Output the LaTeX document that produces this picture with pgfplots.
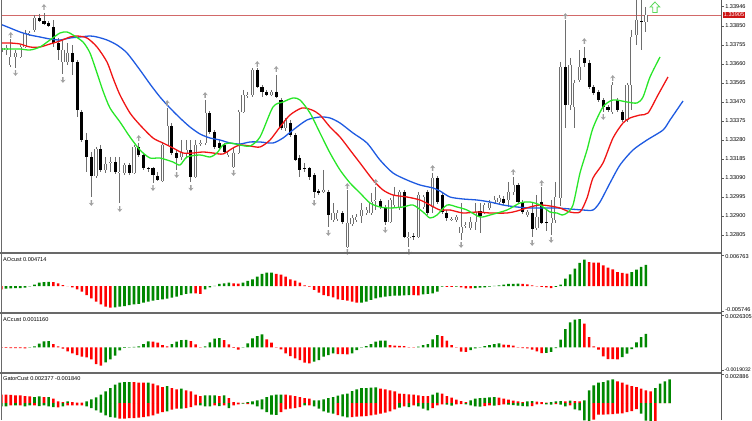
\documentclass[border=0pt]{standalone}
\usepackage{fontspec}
\setmainfont{Liberation Sans}
\usepackage{pgfplots}
\usepackage{pgfplotstable}
\pgfplotsset{compat=1.18}

\definecolor{jaw}{RGB}{30,90,225}
\definecolor{teeth}{RGB}{240,20,20}
\definecolor{lips}{RGB}{40,230,40}
\definecolor{upg}{RGB}{0,135,0}
\definecolor{dnr}{RGB}{255,0,0}
\definecolor{wick}{RGB}{110,110,110}
\definecolor{axc}{RGB}{90,90,90}
\definecolor{sep}{RGB}{105,105,105}
\definecolor{fract}{RGB}{160,160,160}
\definecolor{pline}{RGB}{210,105,105}
\definecolor{arrowg}{RGB}{90,215,90}
\definecolor{pbox}{RGB}{205,20,20}

\newcommand\tickfont{\fontsize{5.6bp}{6bp}\selectfont}
\newcommand\smallfont{\fontsize{5.2bp}{6bp}\selectfont}

\pgfdeclareplotmark{fup}{%
  \pgfpathmoveto{\pgfqpoint{0bp}{2.9bp}}%
  \pgfpathlineto{\pgfqpoint{2.6bp}{-0.3bp}}%
  \pgfpathlineto{\pgfqpoint{0.7bp}{0.5bp}}%
  \pgfpathlineto{\pgfqpoint{0.7bp}{-2.8bp}}%
  \pgfpathlineto{\pgfqpoint{-0.7bp}{-2.8bp}}%
  \pgfpathlineto{\pgfqpoint{-0.7bp}{0.5bp}}%
  \pgfpathlineto{\pgfqpoint{-2.6bp}{-0.3bp}}%
  \pgfpathclose\pgfusepathqfill}
\pgfdeclareplotmark{fdn}{%
  \pgfpathmoveto{\pgfqpoint{0bp}{-2.9bp}}%
  \pgfpathlineto{\pgfqpoint{2.6bp}{0.3bp}}%
  \pgfpathlineto{\pgfqpoint{0.7bp}{-0.5bp}}%
  \pgfpathlineto{\pgfqpoint{0.7bp}{2.8bp}}%
  \pgfpathlineto{\pgfqpoint{-0.7bp}{2.8bp}}%
  \pgfpathlineto{\pgfqpoint{-0.7bp}{-0.5bp}}%
  \pgfpathlineto{\pgfqpoint{-2.6bp}{0.3bp}}%
  \pgfpathclose\pgfusepathqfill}
\pgfdeclareplotmark{bigup}{%
  \pgfpathmoveto{\pgfqpoint{0bp}{5bp}}%
  \pgfpathlineto{\pgfqpoint{4.8bp}{0bp}}%
  \pgfpathlineto{\pgfqpoint{2.2bp}{0bp}}%
  \pgfpathlineto{\pgfqpoint{2.2bp}{-5.5bp}}%
  \pgfpathlineto{\pgfqpoint{-2.2bp}{-5.5bp}}%
  \pgfpathlineto{\pgfqpoint{-2.2bp}{0bp}}%
  \pgfpathlineto{\pgfqpoint{-4.8bp}{0bp}}%
  \pgfpathclose\pgfusepathqstroke}

\pgfplotstableread{
i o h l c
0 1.33720 1.33755 1.33705 1.33740
1 1.33730 1.33755 1.33705 1.33740
2 1.33655 1.33785 1.33645 1.33695
3 1.33695 1.33730 1.33640 1.33715
4 1.33695 1.33755 1.33690 1.33745
5 1.33745 1.33830 1.33740 1.33815
6 1.33810 1.33825 1.33800 1.33815
7 1.33830 1.33905 1.33820 1.33890
8 1.33890 1.33910 1.33870 1.33875
9 1.33875 1.33915 1.33855 1.33860
10 1.33865 1.33875 1.33845 1.33850
11 1.33845 1.33880 1.33745 1.33765
12 1.33765 1.33790 1.33680 1.33730
13 1.33670 1.33780 1.33610 1.33730
14 1.33670 1.33765 1.33655 1.33715
15 1.33715 1.33755 1.33605 1.33670
16 1.33670 1.33680 1.33395 1.33430
17 1.33420 1.33430 1.33270 1.33280
18 1.33280 1.33315 1.33120 1.33195
19 1.33195 1.33220 1.32995 1.33100
20 1.33100 1.33245 1.33090 1.33235
21 1.33235 1.33255 1.33120 1.33130
22 1.33130 1.33195 1.33115 1.33160
23 1.33165 1.33195 1.33120 1.33170
24 1.33170 1.33195 1.33110 1.33120
25 1.33115 1.33195 1.32965 1.33120
26 1.33115 1.33165 1.33105 1.33155
27 1.33155 1.33165 1.33105 1.33115
28 1.33115 1.33255 1.33110 1.33245
29 1.33245 1.33265 1.33195 1.33205
30 1.33205 1.33215 1.33130 1.33140
31 1.33140 1.33145 1.33120 1.33135
32 1.33140 1.33145 1.33065 1.33105
33 1.33100 1.33120 1.33075 1.33080
34 1.33075 1.33265 1.33070 1.33255
35 1.33255 1.33440 1.33250 1.33350
36 1.33350 1.33365 1.33205 1.33215
37 1.33215 1.33230 1.33130 1.33190
38 1.33195 1.33280 1.33180 1.33220
39 1.33215 1.33280 1.33195 1.33230
40 1.33230 1.33280 1.33070 1.33095
41 1.33095 1.33280 1.33090 1.33255
42 1.33260 1.33280 1.33250 1.33265
43 1.33265 1.33480 1.33255 1.33415
44 1.33415 1.33425 1.33310 1.33320
45 1.33320 1.33330 1.33235 1.33245
46 1.33265 1.33280 1.33230 1.33240
47 1.33255 1.33265 1.33210 1.33220
48 1.33205 1.33230 1.33195 1.33220
49 1.33145 1.33240 1.33140 1.33215
50 1.33215 1.33430 1.33210 1.33420
51 1.33420 1.33530 1.33415 1.33505
52 1.33500 1.33520 1.33490 1.33505
53 1.33505 1.33640 1.33495 1.33630
54 1.33630 1.33640 1.33540 1.33545
55 1.33545 1.33555 1.33495 1.33520
56 1.33520 1.33530 1.33500 1.33505
57 1.33505 1.33530 1.33500 1.33520
58 1.33520 1.33605 1.33490 1.33495
59 1.33480 1.33490 1.33330 1.33340
60 1.33340 1.33390 1.33325 1.33380
61 1.33365 1.33380 1.33295 1.33305
62 1.33305 1.33315 1.33175 1.33180
63 1.33190 1.33205 1.33095 1.33130
64 1.33140 1.33165 1.33120 1.33135
65 1.33140 1.33145 1.33080 1.33095
66 1.33105 1.33115 1.32990 1.33020
67 1.33025 1.33035 1.33005 1.33015
68 1.33020 1.33130 1.33015 1.33030
69 1.33020 1.33030 1.32845 1.32905
70 1.32880 1.32965 1.32870 1.32915
71 1.32885 1.32930 1.32875 1.32915
72 1.32915 1.32925 1.32860 1.32870
73 1.32745 1.33030 1.32740 1.32865
74 1.32860 1.32905 1.32850 1.32890
75 1.32880 1.32910 1.32870 1.32895
76 1.32900 1.32965 1.32865 1.32930
77 1.32915 1.32945 1.32905 1.32930
78 1.32915 1.33015 1.32905 1.32970
79 1.32975 1.33045 1.32930 1.32980
80 1.32975 1.32985 1.32935 1.32945
81 1.32945 1.32955 1.32855 1.32870
82 1.32870 1.32990 1.32865 1.32980
83 1.32955 1.33045 1.32945 1.33005
84 1.32940 1.33030 1.32930 1.33020
85 1.33020 1.33030 1.32790 1.32795
86 1.32790 1.32820 1.32745 1.32795
87 1.32800 1.32815 1.32780 1.32795
88 1.32795 1.33020 1.32790 1.33005
89 1.32945 1.33005 1.32935 1.32995
90 1.33020 1.33030 1.32905 1.32915
91 1.32945 1.33115 1.32915 1.33090
92 1.33090 1.33100 1.32960 1.32970
93 1.33005 1.33015 1.32910 1.32920
94 1.32915 1.32930 1.32875 1.32890
95 1.32880 1.32895 1.32875 1.32885
96 1.32880 1.32905 1.32870 1.32895
97 1.32815 1.32965 1.32780 1.32845
98 1.32850 1.32870 1.32840 1.32855
99 1.32840 1.32895 1.32830 1.32870
100 1.32870 1.32965 1.32830 1.32920
101 1.32925 1.32965 1.32815 1.32900
102 1.32920 1.32965 1.32910 1.32955
103 1.32940 1.32980 1.32930 1.32965
104 1.32965 1.33000 1.32960 1.32980
105 1.32970 1.33005 1.32960 1.32990
106 1.32985 1.33000 1.32955 1.32965
107 1.32980 1.33070 1.32945 1.33020
108 1.33020 1.33095 1.33005 1.33055
109 1.33055 1.33065 1.32960 1.32970
110 1.32970 1.32980 1.32910 1.32920
111 1.32905 1.32930 1.32895 1.32920
112 1.32915 1.32965 1.32795 1.32835
113 1.32840 1.33005 1.32830 1.32895
114 1.32970 1.33045 1.32860 1.32865
115 1.32870 1.32930 1.32825 1.32865
116 1.32865 1.32980 1.32805 1.32890
117 1.32880 1.33070 1.32865 1.32995
118 1.32990 1.33670 1.32950 1.33645
119 1.33645 1.33880 1.33340 1.33455
120 1.33455 1.33690 1.33430 1.33655
121 1.33445 1.33580 1.33340 1.33565
122 1.33580 1.33730 1.33570 1.33645
123 1.33690 1.33745 1.33645 1.33665
124 1.33665 1.33680 1.33535 1.33545
125 1.33545 1.33555 1.33505 1.33515
126 1.33520 1.33530 1.33470 1.33480
127 1.33480 1.33490 1.33420 1.33445
128 1.33445 1.33455 1.33420 1.33430
129 1.33420 1.33570 1.33410 1.33555
130 1.33480 1.33490 1.33420 1.33430
131 1.33420 1.33430 1.33370 1.33380
132 1.33380 1.33565 1.33370 1.33555
133 1.33555 1.33830 1.33430 1.33795
134 1.33805 1.34005 1.33755 1.33880
135 1.33875 1.34005 1.33730 1.33868
136 1.33870 1.33945 1.33820 1.33905
}\candles

\pgfplotstableread{
i v g
0 -0.00074 0
1 -0.00060 1
2 -0.00051 1
3 -0.00050 1
4 -0.00045 1
5 -0.00038 1
6 -0.00007 1
7 0.00029 1
8 0.00074 1
9 0.00089 1
10 0.00094 1
11 0.00089 0
12 0.00060 0
13 0.00022 0
14 -0.00004 0
15 -0.00029 0
16 -0.00074 0
17 -0.00127 0
18 -0.00201 0
19 -0.00274 0
20 -0.00350 0
21 -0.00408 0
22 -0.00462 0
23 -0.00480 0
24 -0.00475 1
25 -0.00462 1
26 -0.00446 1
27 -0.00424 1
28 -0.00408 1
29 -0.00401 1
30 -0.00372 1
31 -0.00350 1
32 -0.00328 1
33 -0.00312 1
34 -0.00297 1
35 -0.00283 1
36 -0.00261 1
37 -0.00239 1
38 -0.00201 1
39 -0.00178 1
40 -0.00163 1
41 -0.00167 0
42 -0.00174 0
43 -0.00074 1
44 -0.00029 1
45 0.00002 1
46 0.00045 1
47 0.00060 1
48 0.00074 1
49 0.00060 0
50 0.00051 0
51 0.00074 1
52 0.00112 1
53 0.00149 1
54 0.00207 1
55 0.00268 1
56 0.00297 1
57 0.00299 1
58 0.00268 0
59 0.00252 0
60 0.00207 0
61 0.00149 0
62 0.00118 0
63 0.00074 0
64 0.00016 0
65 -0.00016 0
66 -0.00089 0
67 -0.00149 0
68 -0.00201 0
69 -0.00223 0
70 -0.00252 0
71 -0.00297 0
72 -0.00312 0
73 -0.00328 0
74 -0.00350 0
75 -0.00372 0
76 -0.00370 1
77 -0.00350 1
78 -0.00312 1
79 -0.00274 1
80 -0.00252 1
81 -0.00239 1
82 -0.00223 1
83 -0.00216 1
84 -0.00214 1
85 -0.00207 1
86 -0.00201 1
87 -0.00203 0
88 -0.00207 0
89 -0.00185 1
90 -0.00178 1
91 -0.00163 1
92 -0.00127 1
93 -0.00016 1
94 -0.00018 0
95 -0.00020 0
96 -0.00013 1
97 -0.00029 0
98 -0.00051 0
99 -0.00054 0
100 -0.00045 1
101 -0.00038 1
102 -0.00029 1
103 -0.00016 1
104 0.00002 1
105 0.00016 1
106 0.00029 1
107 0.00045 1
108 0.00049 1
109 0.00051 1
110 0.00049 0
111 0.00038 0
112 0.00016 0
113 -0.00007 0
114 -0.00022 0
115 -0.00029 0
116 -0.00045 0
117 -0.00022 1
118 0.00029 1
119 0.00163 1
120 0.00261 1
121 0.00386 1
122 0.00513 1
123 0.00587 1
124 0.00535 0
125 0.00524 0
126 0.00520 0
127 0.00462 0
128 0.00408 0
129 0.00372 0
130 0.00312 0
131 0.00290 0
132 0.00274 0
133 0.00312 1
134 0.00364 1
135 0.00424 1
136 0.00471 1
}\aotab

\pgfplotstableread{
i v g
0 -0.000033 0
1 -0.000041 0
2 -0.000049 0
3 -0.000058 0
4 -0.000066 0
5 -0.000074 0
6 -0.000025 1
7 0.000082 1
8 0.000305 1
9 0.000494 1
10 0.000519 1
11 0.000272 0
12 0.000082 0
13 -0.000107 0
14 -0.000330 0
15 -0.000494 0
16 -0.000634 0
17 -0.000766 0
18 -0.000824 0
19 -0.000989 0
20 -0.001376 0
21 -0.001508 0
22 -0.001236 1
23 -0.000989 1
24 -0.000684 1
25 -0.000247 1
26 -0.000041 1
27 0.000025 1
28 0.000041 1
29 0.000082 1
30 0.000272 1
31 0.000494 1
32 0.000470 0
33 0.000387 0
34 0.000190 0
35 0.000082 0
36 0.000272 1
37 0.000470 1
38 0.000602 1
39 0.000618 1
40 0.000519 0
41 0.000247 0
42 -0.000025 0
43 0.000082 1
44 0.000412 1
45 0.000717 1
46 0.000766 1
47 0.000602 0
48 0.000247 0
49 -0.000041 0
50 -0.000190 0
51 -0.000025 1
52 0.000330 1
53 0.000742 1
54 0.000931 1
55 0.001071 1
56 0.000659 0
57 0.000387 0
58 -0.000008 0
59 -0.000165 0
60 -0.000494 0
61 -0.000717 0
62 -0.000906 0
63 -0.001046 0
64 -0.001261 0
65 -0.001318 0
66 -0.001178 1
67 -0.001046 1
68 -0.000766 1
69 -0.000634 1
70 -0.000494 1
71 -0.000552 0
72 -0.000560 0
73 -0.000577 0
74 -0.000494 1
75 -0.000222 1
76 -0.000025 1
77 0.000107 1
78 0.000272 1
79 0.000470 1
80 0.000552 1
81 0.000569 1
82 0.000190 0
83 0.000140 0
84 0.000124 0
85 0.000107 0
86 0.000016 0
87 -0.000008 0
88 0.000058 1
89 0.000190 1
90 0.000272 1
91 0.000659 1
92 0.001014 1
93 0.000931 0
94 0.000552 0
95 0.000190 0
96 -0.000025 0
97 -0.000354 0
98 -0.000371 0
99 -0.000222 1
100 -0.000082 1
101 0.000016 1
102 0.000107 1
103 0.000190 1
104 0.000272 1
105 0.000330 1
106 0.000231 0
107 0.000206 0
108 0.000140 0
109 0.000025 0
110 -0.000058 0
111 -0.000082 0
112 -0.000190 0
113 -0.000330 0
114 -0.000470 0
115 -0.000453 1
116 -0.000371 1
117 -0.000058 1
118 0.000634 1
119 0.001508 1
120 0.002060 1
121 0.002282 1
122 0.002332 1
123 0.001953 0
124 0.000849 0
125 0.000082 0
126 -0.000190 0
127 -0.000742 0
128 -0.000964 0
129 -0.000972 0
130 -0.000981 0
131 -0.000799 1
132 -0.000519 1
133 -0.000140 1
134 0.000412 1
135 0.000849 1
136 0.001116 1
}\actab

\pgfplotstableread{
i up ug dn dg
0 0.00083 0 -0.00033 1
1 0.00083 0 -0.00033 1
2 0.00082 0 -0.00023 0
3 0.00077 0 -0.00024 1
4 0.00076 0 -0.00023 0
5 0.00070 0 -0.00033 1
6 0.00067 0 -0.00023 1
7 0.00060 1 -0.00023 0
8 0.00067 1 -0.00030 1
9 0.00060 0 -0.00023 1
10 0.00060 1 -0.00033 1
11 0.00043 0 -0.00040 1
12 0.00017 0 -0.00043 0
13 0.00010 0 -0.00033 1
14 0.00017 1 -0.00023 0
15 0.00010 0 -0.00023 0
16 0.00003 0 -0.00023 0
17 0.00003 0 -0.00023 0
18 0.00017 1 -0.00033 1
19 0.00037 1 -0.00050 1
20 0.00057 1 -0.00073 1
21 0.00083 1 -0.00097 1
22 0.00117 1 -0.00123 1
23 0.00150 1 -0.00140 1
24 0.00183 1 -0.00147 1
25 0.00203 1 -0.00157 0
26 0.00210 1 -0.00157 0
27 0.00210 1 -0.00150 0
28 0.00210 0 -0.00150 0
29 0.00203 0 -0.00147 0
30 0.00203 0 -0.00140 0
31 0.00203 1 -0.00133 0
32 0.00193 0 -0.00123 0
33 0.00177 0 -0.00107 0
34 0.00160 0 -0.00090 0
35 0.00170 1 -0.00083 1
36 0.00150 0 -0.00067 0
37 0.00137 0 -0.00057 0
38 0.00143 1 -0.00057 1
39 0.00127 0 -0.00050 0
40 0.00117 0 -0.00040 0
41 0.00083 0 -0.00023 0
42 0.00070 0 -0.00023 1
43 0.00077 1 -0.00033 1
44 0.00077 1 -0.00033 1
45 0.00077 1 -0.00023 0
46 0.00070 0 -0.00030 1
47 0.00077 1 -0.00023 0
48 0.00050 0 -0.00050 1
49 0.00010 0 -0.00023 0
50 0.00003 0 -0.00013 0
51 0.00002 0 -0.00007 1
52 0.00010 1 -0.00010 0
53 0.00017 1 -0.00013 1
54 0.00027 1 -0.00033 1
55 0.00037 1 -0.00063 1
56 0.00060 1 -0.00090 1
57 0.00077 1 -0.00117 1
58 0.00083 1 -0.00118 1
59 0.00084 1 -0.00090 0
60 0.00083 0 -0.00063 0
61 0.00077 0 -0.00057 0
62 0.00070 0 -0.00050 0
63 0.00060 0 -0.00040 0
64 0.00050 0 -0.00023 1
65 0.00043 0 -0.00023 0
66 0.00027 1 -0.00033 1
67 0.00027 1 -0.00057 1
68 0.00037 1 -0.00083 1
69 0.00050 1 -0.00097 1
70 0.00060 1 -0.00107 1
71 0.00073 1 -0.00120 0
72 0.00087 1 -0.00133 1
73 0.00093 1 -0.00143 1
74 0.00120 1 -0.00140 0
75 0.00137 1 -0.00137 0
76 0.00150 1 -0.00133 0
77 0.00150 1 -0.00130 0
78 0.00153 1 -0.00123 0
79 0.00157 1 -0.00117 0
80 0.00143 0 -0.00107 0
81 0.00137 0 -0.00097 0
82 0.00127 0 -0.00083 0
83 0.00117 0 -0.00063 0
84 0.00093 0 -0.00047 1
85 0.00092 0 -0.00033 0
86 0.00087 0 -0.00040 1
87 0.00083 0 -0.00023 0
88 0.00077 0 -0.00033 1
89 0.00070 0 -0.00057 1
90 0.00069 0 -0.00073 1
91 0.00083 1 -0.00050 0
92 0.00103 1 -0.00023 0
93 0.00093 0 -0.00013 0
94 0.00070 0 -0.00017 1
95 0.00053 0 -0.00027 1
96 0.00033 0 -0.00013 0
97 0.00020 0 -0.00010 0
98 0.00010 0 -0.00013 1
99 0.00027 1 -0.00023 1
100 0.00043 1 -0.00033 1
101 0.00050 1 -0.00037 1
102 0.00051 1 -0.00030 0
103 0.00057 1 -0.00023 0
104 0.00060 1 -0.00027 1
105 0.00053 0 -0.00020 0
106 0.00043 0 -0.00013 0
107 0.00033 0 -0.00017 1
108 0.00023 0 -0.00020 1
109 0.00017 0 -0.00027 1
110 0.00010 0 -0.00030 1
111 0.00017 1 -0.00033 1
112 0.00018 1 -0.00030 0
113 0.00013 0 -0.00013 0
114 0.00010 0 -0.00010 0
115 0.00003 0 -0.00013 1
116 0.00010 1 -0.00017 1
117 0.00017 1 -0.00010 0
118 0.00020 1 -0.00017 1
119 0.00017 0 -0.00033 1
120 0.00023 1 -0.00023 0
121 0.00020 0 -0.00063 1
122 0.00017 0 -0.00073 1
123 0.00027 1 -0.00173 1
124 0.00127 1 -0.00180 1
125 0.00177 1 -0.00167 0
126 0.00203 1 -0.00117 0
127 0.00210 1 -0.00115 0
128 0.00227 1 -0.00113 0
129 0.00237 1 -0.00110 0
130 0.00217 0 -0.00107 0
131 0.00203 0 -0.00103 0
132 0.00183 0 -0.00090 0
133 0.00170 0 -0.00080 0
134 0.00160 0 -0.00060 0
135 0.00143 0 -0.00105 1
136 0.00127 0 -0.00175 1
137 0.00117 0 -0.00190 1
138 0.00150 1 -0.00184 0
139 0.00193 1 0 0
140 0.00217 1 0 0
141 0.00237 1 0 0
}\gatortab

\pgfplotsset{
  panel/.style={
    scale only axis, width=720bp,
    xmin=-0.063, xmax=151.84,
    axis x line=none, axis y line*=right,
    y axis line style={draw=axc, line width=0.8bp},
    tick align=outside, major tick length=2.5bp,
    ytick style={draw=axc, line width=0.6bp},
    scaled y ticks=false,
    yticklabel style={font=\tickfont, anchor=west, inner sep=0pt, xshift=1.6bp},
    clip=true,
  },
  hist/.style={ybar, bar width=2.6bp, bar shift=0pt, draw=none, forget plot},
  cbar/.style={draw=none, mark=none, forget plot},
}

\begin{document}
\begin{tikzpicture}[x=1bp,y=1bp]
\useasboundingbox (0,0) rectangle (752,420);

% ---------------- main price panel ----------------
\begin{axis}[panel, height=253bp, at={(1bp,167bp)}, anchor=south west,
  ymin=1.32715, ymax=1.33980,
  ytick={1.32805,1.32900,1.32995,1.33090,1.33185,1.33280,1.33375,1.33470,1.33565,1.33660,1.33755,1.33850,1.33946},
  yticklabels={1.32805,1.32900,1.32995,1.33090,1.33185,1.33280,1.33375,1.33470,1.33565,1.33660,1.33755,1.33850,1.33946},
  extra y ticks={1.33905}, extra y tick labels={1.33905},
  extra y tick style={major tick length=0pt, yticklabel style={fill=pbox, text=white, inner sep=0.8bp, xshift=0.3bp}},
]
% current price line
\addplot[pline, line width=0.7bp, mark=none, forget plot] coordinates {(-1,1.33905) (155,1.33905)};
% wicks
\addplot[cbar, error bars/.cd, y dir=minus, y explicit, error mark=none,
  error bar style={draw=wick, line width=0.9bp}]
  table[x=i, y=h, y error minus expr={\thisrow{h}-\thisrow{l}}] {\candles};
% bull bodies: grey outline then white inside
\addplot[cbar, error bars/.cd, y dir=minus, y explicit, error mark=none,
  error bar style={draw=wick, line width=3.2bp}]
  table[x=i,
    y expr={\thisrow{c}+0.00002*min(max((\thisrow{c}-\thisrow{o})*100000,0),1)},
    y error minus expr={max(\thisrow{c}-\thisrow{o},0)+0.00004*min(max((\thisrow{c}-\thisrow{o})*100000,0),1)}] {\candles};
\addplot[cbar, error bars/.cd, y dir=minus, y explicit, error mark=none,
  error bar style={draw=white, line width=1.6bp}]
  table[x=i,
    y expr={\thisrow{c}-0.00002*min(max((\thisrow{c}-\thisrow{o})*100000,0),1)},
    y error minus expr={max(\thisrow{c}-\thisrow{o}-0.00004,0)}] {\candles};
% bear bodies
\addplot[cbar, error bars/.cd, y dir=minus, y explicit, error mark=none,
  error bar style={draw=black, line width=3.1bp}]
  table[x=i, y=o, y error minus expr={max(\thisrow{o}-\thisrow{c},0)}] {\candles};

% alligator jaw (blue)
\addplot[jaw, line width=1.3bp, mark=none, smooth, tension=0.45] coordinates {
(-0.27,1.33860) (1.84,1.33840) (3.95,1.33820) (6.05,1.33805) (8.16,1.33795) (10.27,1.33785) (12.38,1.33780) (14.49,1.33790) (16.60,1.33795) (18.71,1.33800) (20.19,1.33795) (22.30,1.33780) (24.41,1.33755) (26.52,1.33715) (29.26,1.33630) (31.37,1.33560) (33.48,1.33495) (35.59,1.33440) (37.70,1.33390) (39.81,1.33345) (41.92,1.33310) (44.03,1.33290) (46.14,1.33280) (48.25,1.33265) (50.36,1.33260) (52.47,1.33270) (54.58,1.33270) (57.32,1.33265) (59.43,1.33290) (61.54,1.33330) (64.49,1.33380) (67.24,1.33395) (69.35,1.33390) (71.46,1.33365) (74.20,1.33315) (77.15,1.33265) (79.89,1.33180) (82.64,1.33115) (85.59,1.33080) (88.33,1.33055) (91.08,1.33040) (92.55,1.33025) (94.66,1.32995) (97.41,1.32985) (100.36,1.32980) (103.10,1.32970) (105.84,1.32955) (108.80,1.32945) (111.54,1.32940) (114.28,1.32940) (117.24,1.32940) (119.98,1.32935) (122.72,1.32930) (124.83,1.32930) (126.31,1.32970) (128.42,1.33065) (130.53,1.33155) (133.27,1.33230) (136.23,1.33280) (139.60,1.33330) (141.08,1.33380) (143.82,1.33475)};
% alligator teeth (red)
\addplot[teeth, line width=1.3bp, mark=none, smooth, tension=0.45] coordinates {
(-0.27,1.33765) (1.84,1.33765) (3.95,1.33760) (6.05,1.33745) (8.16,1.33745) (10.27,1.33760) (12.38,1.33775) (14.49,1.33795) (15.97,1.33800) (18.08,1.33790) (20.19,1.33745) (22.30,1.33670) (23.57,1.33590) (25.04,1.33505) (27.15,1.33415) (29.26,1.33355) (32.00,1.33290) (34.11,1.33265) (36.22,1.33240) (38.33,1.33215) (40.44,1.33215) (42.55,1.33220) (44.66,1.33215) (46.77,1.33210) (48.88,1.33240) (50.36,1.33255) (52.47,1.33250) (54.58,1.33245) (56.69,1.33280) (58.80,1.33345) (60.91,1.33405) (63.44,1.33440) (65.55,1.33430) (67.24,1.33405) (69.35,1.33345) (71.46,1.33295) (73.57,1.33230) (75.68,1.33165) (78.42,1.33080) (80.53,1.33030) (82.64,1.33005) (85.59,1.32995) (88.33,1.32980) (90.44,1.32955) (92.55,1.32930) (94.66,1.32930) (97.41,1.32915) (100.36,1.32920) (103.10,1.32915) (106.69,1.32915) (108.80,1.32925) (111.54,1.32945) (113.65,1.32955) (115.76,1.32950) (117.87,1.32940) (119.98,1.32920) (122.09,1.32920) (123.57,1.32990) (124.83,1.33090) (126.94,1.33165) (129.05,1.33290) (131.16,1.33365) (132.64,1.33390) (134.75,1.33405) (136.44,1.33415) (138.54,1.33505) (140.65,1.33595)};
% alligator lips (green)
\addplot[lips, line width=1.3bp, mark=none, smooth, tension=0.45] coordinates {
(-0.27,1.33735) (1.84,1.33735) (3.95,1.33735) (6.05,1.33730) (8.16,1.33745) (10.27,1.33780) (12.38,1.33815) (13.86,1.33820) (15.13,1.33805) (17.24,1.33770) (18.71,1.33715) (20.19,1.33615) (21.46,1.33525) (22.93,1.33440) (25.04,1.33370) (27.15,1.33295) (29.26,1.33230) (31.37,1.33190) (33.48,1.33190) (36.22,1.33170) (37.70,1.33155) (39.18,1.33195) (41.92,1.33205) (44.03,1.33195) (45.50,1.33215) (46.77,1.33255) (48.25,1.33265) (50.36,1.33255) (52.47,1.33250) (54.58,1.33295) (57.32,1.33445) (59.43,1.33470) (61.54,1.33490) (63.02,1.33480) (65.13,1.33415) (67.24,1.33315) (69.35,1.33215) (71.46,1.33130) (73.57,1.33065) (75.68,1.33015) (77.78,1.32965) (79.89,1.32945) (82.00,1.32940) (84.75,1.32945) (86.86,1.32955) (88.97,1.32920) (90.44,1.32890) (91.92,1.32905) (94.03,1.32955) (96.14,1.32945) (98.25,1.32930) (100.99,1.32895) (103.10,1.32905) (106.69,1.32930) (109.43,1.32965) (111.54,1.32970) (113.65,1.32955) (115.76,1.32920) (117.24,1.32915) (118.29,1.32905) (119.35,1.32915) (120.61,1.32955) (122.09,1.33115) (123.57,1.33230) (124.83,1.33340) (126.94,1.33445) (129.05,1.33480) (132.01,1.33470) (134.12,1.33465) (135.38,1.33495) (136.86,1.33595) (138.97,1.33695)};

% fractals
\addplot[only marks, mark=fup, color=fract, forget plot] coordinates {
(2,1.33805) (9,1.33945) (29,1.33290) (35,1.33465) (43,1.33505) (54,1.33660) (58,1.33635) (73,1.33050) (79,1.33070) (91,1.33140) (108,1.33120) (114,1.33065) (119,1.33900) (123,1.33775) (129,1.33590)};
\addplot[only marks, mark=fdn, color=fract, forget plot] coordinates {
(3,1.33615) (13,1.33580) (19,1.32965) (25,1.32935) (32,1.33040) (37,1.33105) (40,1.33040) (49,1.33115) (66,1.32965) (69,1.32815) (73,1.32720) (81,1.32830) (86,1.32720) (97,1.32755) (112,1.32765) (116,1.32780) (127,1.33395)};
\addplot[only marks, mark=bigup, color=arrowg, mark options={line width=0.8bp}, forget plot] coordinates {(137.9,1.33945)};
\end{axis}

% ---------------- AO panel ----------------
\begin{axis}[panel, height=60bp, at={(1bp,107bp)}, anchor=south west,
  ymin=-0.006021, ymax=0.007359,
  ytick={0.006763}, yticklabels={0.006763},
  yticklabel style={yshift=-1.2bp},
  extra y ticks={-0.005746}, extra y tick labels={-0.005746},
  extra y tick style={yticklabel style={yshift=3bp}},
]
\addplot[hist, fill=upg, restrict expr to domain={\thisrow{g}}{0.5:1.5}] table[x=i, y=v] {\aotab};
\addplot[hist, fill=dnr, restrict expr to domain={\thisrow{g}}{-0.5:0.5}] table[x=i, y=v] {\aotab};
\end{axis}

% ---------------- AC panel ----------------
\begin{axis}[panel, height=60bp, at={(1bp,47bp)}, anchor=south west,
  ymin=-0.002109, ymax=0.002835,
  ytick={0.0026305}, yticklabels={0.0026305},
  yticklabel style={yshift=-1.2bp},
  extra y ticks={-0.0019032}, extra y tick labels={-0.0019032},
  extra y tick style={yticklabel style={yshift=2.4bp, xshift=-0.8bp, font=\smallfont}},
]
\addplot[hist, fill=upg, restrict expr to domain={\thisrow{g}}{0.5:1.5}] table[x=i, y=v] {\actab};
\addplot[hist, fill=dnr, restrict expr to domain={\thisrow{g}}{-0.5:0.5}] table[x=i, y=v] {\actab};
\end{axis}

% ---------------- Gator panel ----------------
\begin{axis}[panel, height=47bp, at={(1bp,0bp)}, anchor=south west,
  ymin=-0.0017, ymax=0.0030,
  ytick={0.002886}, yticklabels={0.002886},
  yticklabel style={yshift=-2.8bp},
]
\addplot[hist, fill=upg, restrict expr to domain={\thisrow{ug}}{0.5:1.5}] table[x=i, y=up] {\gatortab};
\addplot[hist, fill=dnr, restrict expr to domain={\thisrow{ug}}{-0.5:0.5}] table[x=i, y=up] {\gatortab};
\addplot[hist, fill=upg, restrict expr to domain={\thisrow{dg}}{0.5:1.5}] table[x=i, y=dn] {\gatortab};
\addplot[hist, fill=dnr, restrict expr to domain={\thisrow{dg}}{-0.5:0.5}] table[x=i, y=dn] {\gatortab};
\end{axis}

% frames and separators
\draw[sep, line width=1.2bp] (1.2,0) -- (1.2,420);
\draw[sep, line width=1.8bp] (0,167) -- (721,167);
\draw[sep, line width=1.8bp] (0,107) -- (721,107);
\draw[sep, line width=1.8bp] (0,47) -- (721,47);

% panel titles
\node[anchor=west, font=\tickfont, inner sep=0pt] at (3,160) {AOcust 0.004714};
\node[anchor=west, font=\tickfont, inner sep=0pt] at (3,100.5) {ACcust 0.0011160};
\node[anchor=west, font=\tickfont, inner sep=0pt] at (3,41) {GatorCust 0.002377 -0.001840};
\end{tikzpicture}
\end{document}
